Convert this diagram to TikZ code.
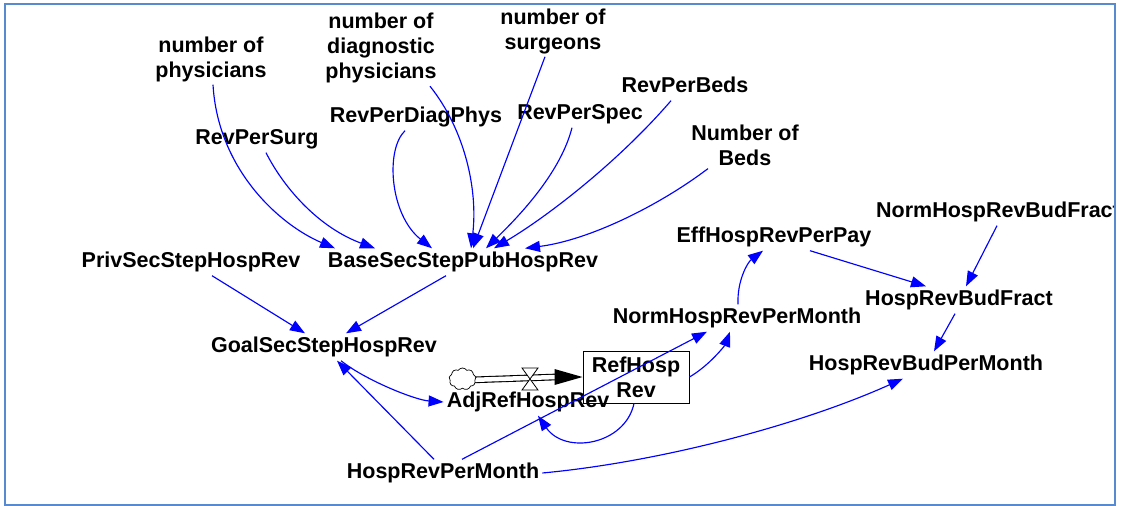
\documentclass[tikz,border=0pt]{standalone}
\usepackage{fontspec}
\setmainfont{Liberation Sans}
\usetikzlibrary{arrows.meta,shapes.symbols}

\definecolor{framecol}{RGB}{88,138,208}
\definecolor{linkblue}{RGB}{0,0,255}

\begin{document}
\begin{tikzpicture}[x=1pt,y=-1pt,
  vfont/.style={font=\fontsize{21.5}{25}\selectfont\bfseries},
  var/.style={vfont, inner sep=3pt, text height=16pt, text depth=5pt},
  mvar/.style={vfont, inner sep=3pt, align=center},
  stockbox/.style={vfont, draw=black, line width=1pt, align=center,
    minimum width=106pt, minimum height=52pt, inner sep=2pt},
  link/.style={draw=linkblue, line width=1.15pt,
    -{Triangle[length=15pt,width=11pt]}},
  pipe/.style={draw=black, line width=1.1pt, double=white, double distance=4.5pt},
]
\useasboundingbox (0,0) rectangle (1122,506);

\begin{scope}
\clip (5,4) rectangle (1115,505);

% variables
\node[mvar] (phys)  at (211,59)  {number of\\physicians};
\node[mvar] (diag)  at (381,48)  {number of\\diagnostic\\physicians};
\node[mvar] (surg)  at (553,31)  {number of\\surgeons};
\node[var]  (rbeds) at (685,87)  {RevPerBeds};
\node[var]  (rspec) at (580,114) {RevPerSpec};
\node[var]  (rdiag) at (416,117) {RevPerDiagPhys};
\node[var]  (rsurg) at (257,139) {RevPerSurg};
\node[mvar] (nbeds) at (745,145) {Number of\\Beds};
\node[var]  (base)  at (463,262) {BaseSecStepPubHospRev};
\node[var]  (priv)  at (191,262) {PrivSecStepHospRev};
\node[var]  (goal)  at (324,347) {GoalSecStepHospRev};
\node[var]  (eff)   at (774,237) {EffHospRevPerPay};
\node[var]  (nbud)  at (998,212) {NormHospRevBudFract};
\node[var]  (bud)   at (959,300) {HospRevBudFract};
\node[var]  (nrpm)  at (737,318) {NormHospRevPerMonth};
\node[var]  (budpm) at (926,365) {HospRevBudPerMonth};
\node[stockbox] (ref) at (636,377) {RefHosp\\Rev};
\node[var]  (hrpm)  at (443,473) {HospRevPerMonth};

% inflow: source cloud, pipe, valve
\draw[pipe] (470,380) -- ([xshift=-27pt]ref.west);
\node[cloud, cloud puffs=9, cloud puff arc=115, aspect=1.25, draw=black,
  line width=0.7pt, fill=white, minimum width=27pt, minimum height=22pt,
  inner sep=0pt] (src) at (462.5,379) {};
\fill[black] ([xshift=-28pt,yshift=8pt]ref.west) -- (ref.west)
  -- ([xshift=-28pt,yshift=-8pt]ref.west) -- cycle;
\coordinate (valve) at (530,380);
\draw[black, line width=0.8pt, fill=white]
  ([xshift=-8pt,yshift=12pt]valve) -- ([xshift=8pt,yshift=12pt]valve)
  -- ([xshift=-8pt,yshift=-10pt]valve) -- ([xshift=8pt,yshift=-10pt]valve) -- cycle;
\node[var] (adj) at (528,402) {AdjRefHospRev};

% links into BaseSecStepPubHospRev
\draw[link] ([xshift=2pt]phys.south) .. controls (218,170) and (280,225) .. ([xshift=-128pt]base.north);
\draw[link] ([xshift=9pt]rsurg.south) .. controls (285,190) and (320,228) .. ([xshift=-88pt]base.north);
\draw[link] ([xshift=-11pt]rdiag.south) .. controls (385,150) and (390,215) .. ([xshift=-31pt]base.north);
\draw[link] ([xshift=49pt]diag.south) .. controls (465,130) and (478,190) .. ([xshift=8pt]base.north);
\draw[link] ([xshift=-8pt]surg.south) -- ([xshift=10pt]base.north);
\draw[link] ([xshift=-8pt]rspec.south) .. controls (560,175) and (515,220) .. ([xshift=23pt]base.north);
\draw[link] ([xshift=-14pt]rbeds.south) .. controls (620,160) and (550,215) .. ([xshift=31pt]base.north);
\draw[link] ([xshift=-37pt]nbeds.south) .. controls (660,205) and (590,240) .. ([xshift=62pt]base.north);

% goal and adjustment
\draw[link] ([xshift=21pt]priv.south) -- ([xshift=-19pt]goal.north);
\draw[link] ([xshift=-17pt]base.south) -- ([xshift=22pt]goal.north);
\draw[link] ([xshift=17pt]goal.south) .. controls (365,380) and (415,400) .. (adj.west);
\draw[link] ([xshift=-9pt]hrpm.north) -- ([xshift=13pt]goal.south);
\draw[link] ([xshift=19pt]hrpm.north) -- ([xshift=-30pt]nrpm.south);
\draw[link] ([xshift=-2pt]ref.south) .. controls (625,445) and (565,455) .. ([xshift=10pt]adj.south);

% budget chain
\draw[link] (ref.east) .. controls (710,365) and (725,345) .. ([xshift=-7pt]nrpm.south);
\draw[link] ([xshift=1pt]nrpm.north) .. controls (737,280) and (748,262) .. ([xshift=-11pt]eff.south);
\draw[link] ([xshift=36pt]eff.south) -- ([xshift=-33pt]bud.north);
\draw[link] ([xshift=-1pt]nbud.south) -- ([xshift=7pt]bud.north);
\draw[link] ([xshift=-4pt]bud.south) -- ([xshift=8pt]budpm.north);
\draw[link] (hrpm.east) .. controls (660,462) and (800,425) .. ([xshift=-23pt]budpm.south);
\end{scope}

\draw[framecol, line width=2pt] (5,4) rectangle (1115,505);
\end{tikzpicture}
\end{document}
